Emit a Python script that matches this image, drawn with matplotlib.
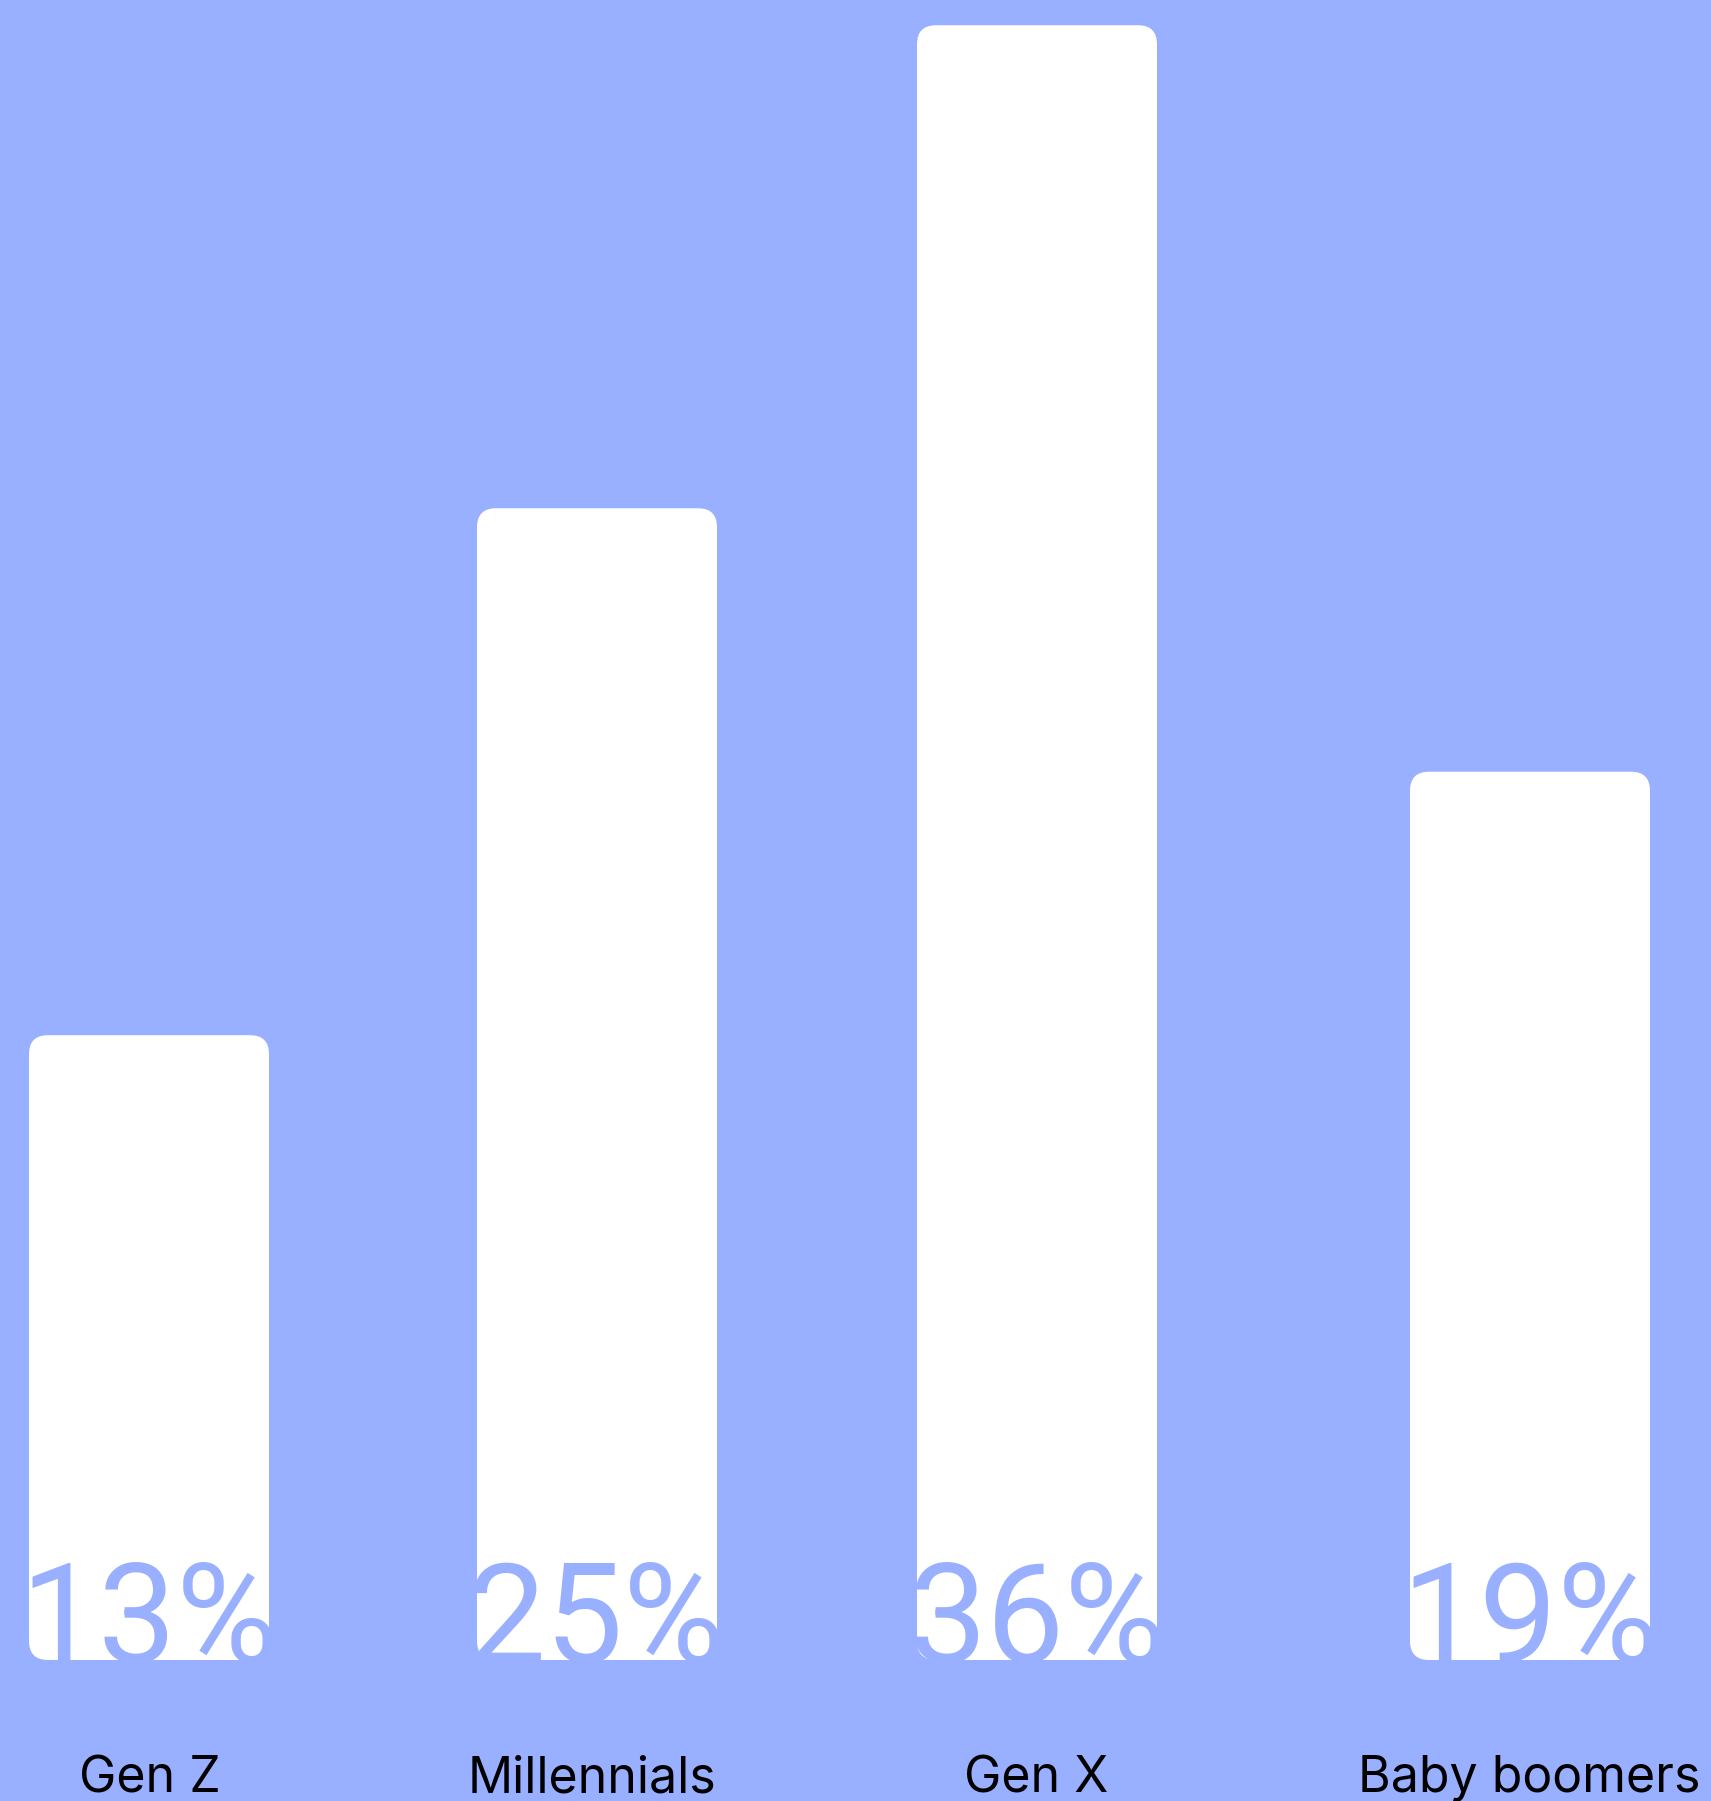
import matplotlib
matplotlib.use("Agg")
import matplotlib.pyplot as plt
from matplotlib.patches import FancyBboxPatch

# data
generations = ["Gen Z", "Millennials", "Gen X", "Baby boomers"]
shares = [13, 25, 36, 19]
share_labels = ["13%", "25%", "36%", "19%"]

# layout (pixel units on x, percent units on y)
x_centers = [149, 597, 1037, 1530]
label_x = [150, 592, 1036, 1529]
bar_width = 240
px_per_pct = 43.91
zero_px = 1606.0
fig_w, fig_h = 1711, 1801

bg = "#99AFFF"
plt.rcParams["font.family"] = ["Inter", "DejaVu Sans"]

fig = plt.figure(figsize=(fig_w / 100, fig_h / 100), dpi=100)
fig.patch.set_facecolor(bg)
ax = fig.add_axes([0, 0, 1, 1])
ax.set_facecolor(bg)
ax.set_xlim(0, fig_w)
ax.set_ylim(-(fig_h - zero_px) / px_per_pct, zero_px / px_per_pct)
ax.axis("off")

def pct(px):
    # pixel row -> percent units
    return (zero_px - px) / px_per_pct

base = pct(1660)
for xc, lx, v, lab, gen in zip(x_centers, label_x, shares, share_labels, generations):
    bar = FancyBboxPatch((xc - bar_width / 2, base), bar_width, v - base,
                         boxstyle="round,pad=0,rounding_size=19",
                         mutation_aspect=1 / px_per_pct,
                         facecolor="white", edgecolor="none")
    ax.add_patch(bar)
    ax.text(xc, pct(1663), lab, ha="center", va="baseline",
            fontsize=100, fontweight="normal", color=bg, family="Roboto")
    ax.text(lx, pct(1792), gen, ha="center", va="baseline",
            fontsize=36, color="black")

fig.savefig("out.png", dpi=100, facecolor=bg)
